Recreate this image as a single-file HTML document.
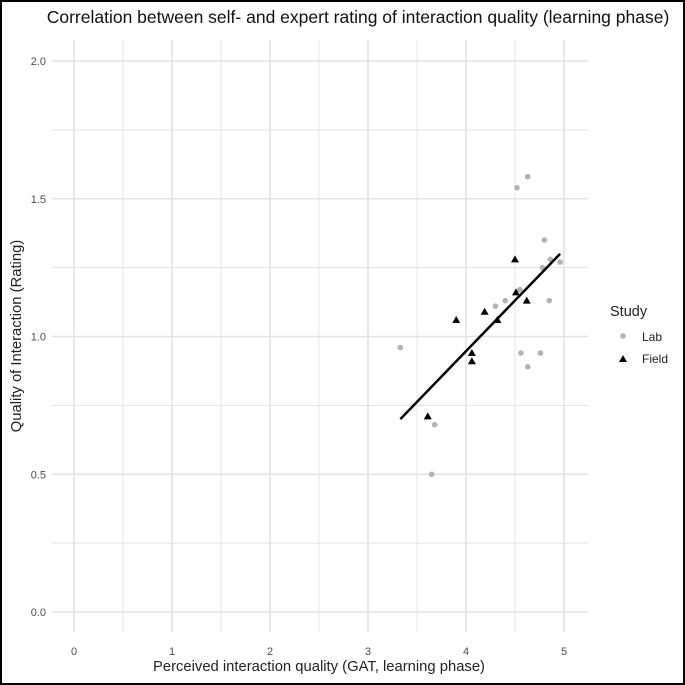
<!DOCTYPE html>
<html><head><meta charset="utf-8"><style>
html,body{margin:0;padding:0;background:#fff;}
svg{display:block;font-family:"Liberation Sans",Arial,sans-serif;}
</style></head><body>
<svg id="chart" width="685" height="685">
<rect x="1" y="1" width="683" height="683" fill="#fff" stroke="#000" stroke-width="2"/>
<text x="358" y="23" text-anchor="middle" font-size="17.5" fill="#111">Correlation between self- and expert rating of interaction quality (learning phase)</text>
<g id="grid"></g>
<g id="marks"></g>
<text x="319" y="671" text-anchor="middle" font-size="14.8" fill="#222">Perceived interaction quality (GAT, learning phase)</text>
<text transform="translate(21,336) rotate(-90)" text-anchor="middle" font-size="14.8" fill="#222">Quality of Interaction (Rating)</text>
<g>
<text x="610" y="316" font-size="14.5" fill="#222">Study</text>
<g><circle cx="623" cy="336" r="2.8" fill="#b3b3b3"/><text x="642" y="341" font-size="12" fill="#222">Lab</text></g>
<g><path d="M619,362 L623,355 L627,362 Z" fill="#000"/><text x="642" y="363" font-size="12" fill="#222">Field</text></g>
</g>
</svg>
<script>
const xTicks=[0,1,2,3,4,5];
const yTicks=[0.0,0.5,1.0,1.5,2.0];
const yTickLabels=["0.0","0.5","1.0","1.5","2.0"];
const labX=[4.63,4.52,4.80,4.86,4.96,4.78,4.55,4.40,4.30,4.85,3.33,4.56,4.76,4.63,3.68,3.65];
const labY=[1.58,1.54,1.35,1.28,1.27,1.25,1.17,1.13,1.11,1.13,0.96,0.94,0.94,0.89,0.68,0.50];
const fieldX=[4.50,4.51,4.62,4.19,3.90,4.32,4.06,4.06,3.61];
const fieldY=[1.28,1.16,1.13,1.09,1.06,1.06,0.94,0.91,0.71];
const fitX=[3.33,4.96];
const fitY=[0.70,1.30];
const sx=v=>74+v*98, sy=v=>612-v*275.5;
const NS="http://www.w3.org/2000/svg";
const grid=document.getElementById('grid'), marks=document.getElementById('marks');
function mk(tag,attrs,parent){const e=document.createElementNS(NS,tag);for(const k in attrs)e.setAttribute(k,attrs[k]);parent.appendChild(e);return e;}
const L=52,R=588,T=40,B=632;
for(let v=0;v<=5.0001;v+=0.5){const l=mk('line',{x1:sx(v),x2:sx(v),y1:T,y2:B,stroke:'#e3e3e3','stroke-width':Number.isInteger(v)?1.6:0.9},grid);

}
for(let v=0;v<=2.0001;v+=0.25){const l=mk('line',{x1:L,x2:R,y1:sy(v),y2:sy(v),stroke:'#e3e3e3','stroke-width':Math.abs(v*2-Math.round(v*2))<1e-6?1.6:0.9},grid);

}
xTicks.forEach(v=>{const t=mk('text',{x:sx(v),y:655,'text-anchor':'middle','font-size':11,fill:'#4d4d4d'},grid);t.textContent=v;

});
yTicks.forEach((v,i)=>{const t=mk('text',{x:46,y:sy(v)+4,'text-anchor':'end','font-size':11,fill:'#4d4d4d'},grid);t.textContent=yTickLabels[i];

});
labX.forEach((x,i)=>{const c=mk('circle',{cx:sx(x),cy:sy(labY[i]),r:2.8,fill:'#b3b3b3'},marks);

});
fieldX.forEach((x,i)=>{const cx=sx(x),cy=sy(fieldY[i]);const p=mk('path',{d:`M${cx-4},${cy+3} L${cx},${cy-4} L${cx+4},${cy+3} Z`,fill:'#000'},marks);

});
const ln=mk('line',{x1:sx(fitX[0]),y1:sy(fitY[0]),x2:sx(fitX[1]),y2:sy(fitY[1]),stroke:'#000','stroke-width':2.5},marks);


</script>
</body></html>
